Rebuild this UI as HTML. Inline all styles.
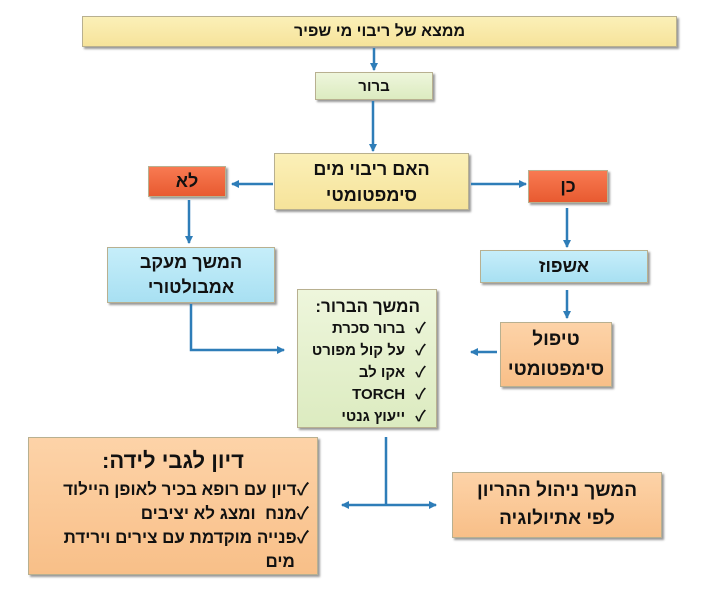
<!DOCTYPE html>
<html><head><meta charset="utf-8"><style>
body{margin:0;width:719px;height:594px;background:#fff;position:relative;font-family:"Liberation Sans","Noto Sans CJK SC",sans-serif;overflow:hidden}
.b{position:absolute;box-sizing:border-box;border:1px solid #b8b090;box-shadow:2px 2px 2px #999;display:flex;align-items:center;justify-content:center;text-align:center;font-weight:bold;direction:rtl;color:#111}
.y{background:linear-gradient(#fbf0b8,#f6e39a)}
.g{background:linear-gradient(#eef6dc,#dcebc0)}
.r{background:linear-gradient(#f87a52,#e85a30)}
.c{background:linear-gradient(#c6eefa,#a8e0f2)}
.o{background:linear-gradient(#fdd3a8,#f8bf88)}
svg{position:absolute;left:0;top:0}
.ck{display:flex;gap:10px;white-space:nowrap}
</style></head><body>
<div class="b y" style="left:82px;top:16px;width:595px;height:31px;font-size:16px">ממצא של ריבוי מי שפיר</div>
<div class="b g" style="left:315px;top:72px;width:118px;height:28px;font-size:15px">ברור</div>
<div class="b y" style="left:274px;top:153px;width:195px;height:57px;font-size:18px;line-height:26px">האם ריבוי מים<br>סימפטומטי</div>
<div class="b r" style="left:148px;top:166px;width:78px;height:31px;font-size:18px">לא</div>
<div class="b r" style="left:528px;top:170px;width:80px;height:33px;font-size:18px">כן</div>
<div class="b c" style="left:107px;top:247px;width:168px;height:56px;font-size:18px;line-height:25px">המשך מעקב<br>אמבולטורי</div>
<div class="b c" style="left:480px;top:250px;width:168px;height:33px;font-size:18px">אשפוז</div>
<div class="b g" style="left:297px;top:289px;width:140px;height:139px;font-size:15px;display:block;text-align:right;padding:6px 10px 0 6px;line-height:22px">
<div style="font-size:17px;white-space:nowrap;margin-right:6px">המשך הברור:</div>
<div class="ck"><span>✓</span><span>ברור סכרת</span></div>
<div class="ck"><span>✓</span><span>על קול מפורט</span></div>
<div class="ck"><span>✓</span><span>אקו לב</span></div>
<div class="ck"><span>✓</span><span>TORCH</span></div>
<div class="ck"><span>✓</span><span>ייעוץ גנטי</span></div></div>
<div class="b o" style="left:500px;top:322px;width:112px;height:65px;font-size:19px;line-height:30px">טיפול<br>סימפטומטי</div>
<div class="b o" style="left:28px;top:437px;width:290px;height:138px;display:block;text-align:right;padding:6px 8px 0 8px;font-size:17px;line-height:24px">
<div style="text-align:center;font-size:22px;line-height:34px">דיון לגבי לידה:</div>
<div>✓דיון עם רופא בכיר לאופן היילוד</div><div>✓מנח &nbsp;ומצג לא יציבים</div><div>✓פנייה מוקדמת עם צירים וירידת<br>&nbsp;&nbsp;&nbsp;מים</div></div>
<div class="b o" style="left:452px;top:472px;width:210px;height:66px;font-size:19px;line-height:28px">המשך ניהול ההריון<br>לפי אתיולוגיה</div>
<svg width="719" height="594"><defs><marker id="a" markerWidth="8" markerHeight="8" refX="7" refY="4" orient="auto" markerUnits="userSpaceOnUse"><path d="M0,0L8,4L0,8Z" fill="#2e7db8"/></marker></defs>
<g stroke="#2e7db8" stroke-width="2.5" fill="none">
<path d="M374 48V70" marker-end="url(#a)"/>
<path d="M373 101V151" marker-end="url(#a)"/>
<path d="M273 184H232" marker-end="url(#a)"/>
<path d="M471 184H526" marker-end="url(#a)"/>
<path d="M189 200V243" marker-end="url(#a)"/>
<path d="M567 208V247" marker-end="url(#a)"/>
<path d="M567 290V318" marker-end="url(#a)"/>
<path d="M191 304V350H284" marker-end="url(#a)"/>
<path d="M497 352H471" marker-end="url(#a)"/>
<path d="M386 437V505"/>
<path d="M386 505H342" marker-end="url(#a)"/>
<path d="M386 505H436" marker-end="url(#a)"/>
</g></svg>
</body></html>
